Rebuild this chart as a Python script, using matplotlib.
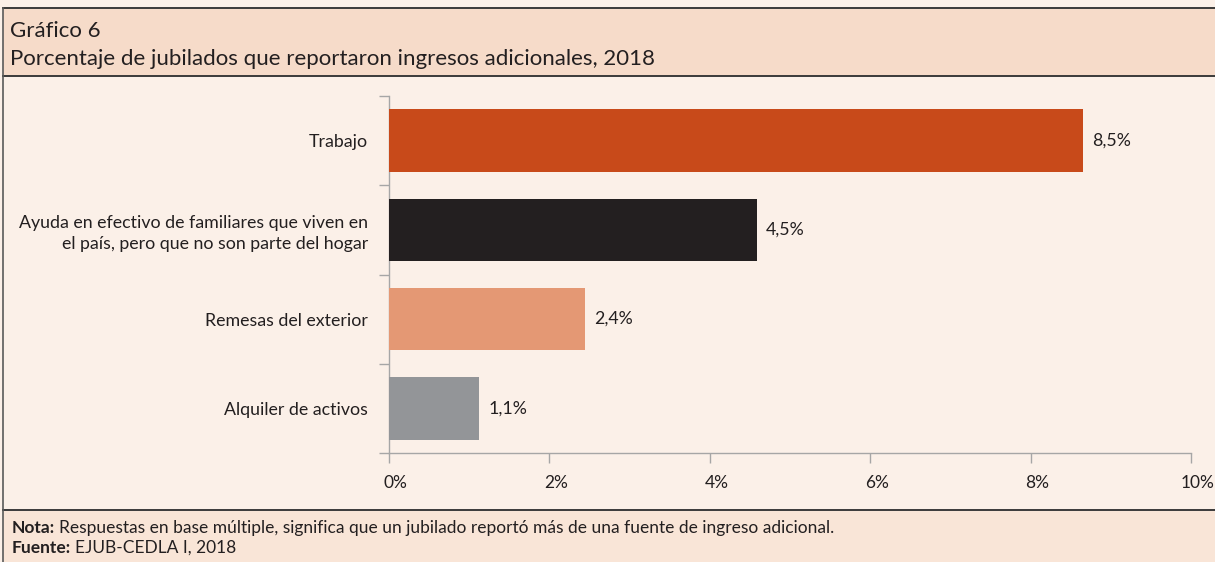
import matplotlib
matplotlib.use("Agg")
import matplotlib.pyplot as plt
import matplotlib.transforms as mtransforms
from matplotlib.patches import Rectangle
from matplotlib.lines import Line2D

plt.rcParams['font.family'] = ['Lato', 'DejaVu Sans']

categorias = ['Trabajo',
              'Ayuda en efectivo de familiares que viven en\nel país, pero que no son parte del hogar',
              'Remesas del exterior',
              'Alquiler de activos']
# longitudes de barra (en %)
valores = [8.66, 4.59, 2.45, 1.13]
etiquetas = ['8,5%', '4,5%', '2,4%', '1,1%']
colores = ['#C84A1A', '#231F20', '#E49874', '#939598']
xticks = [0, 2, 4, 6, 8, 10]
xticklabels = ['0%', '2%', '4%', '6%', '8%', '10%']

titulo1 = 'Gráfico 6'
titulo2 = 'Porcentaje de jubilados que reportaron ingresos adicionales, 2018'
nota = 'Respuestas en base múltiple, significa que un jubilado reportó más de una fuente de ingreso adicional.'
fuente = 'EJUB-CEDLA I, 2018'

W, H = 1215, 562
fig = plt.figure(figsize=(W / 100, H / 100), dpi=100)
fig.patch.set_facecolor('#FBF0E8')


def fx(px):
    return px / W


def fy(py):
    return 1 - py / H


# fondos de cabecera y pie
fig.patches.append(Rectangle((fx(3), fy(76)), 1, fy(8) - fy(76), transform=fig.transFigure,
                             facecolor='#F6DBC9', edgecolor='none', zorder=0))
fig.patches.append(Rectangle((fx(3), 0), 1, fy(510), transform=fig.transFigure,
                             facecolor='#F9E5D7', edgecolor='none', zorder=0))
for yy in (8, 76, 510):
    fig.lines.append(Line2D([fx(3), 1], [fy(yy), fy(yy)], transform=fig.transFigure,
                            color='#3A3A3A', lw=1.4))
fig.lines.append(Line2D([fx(3), fx(3)], [fy(8), 0], transform=fig.transFigure,
                        color='#5A5A5A', lw=1.2))

fig.text(fx(10), fy(31), titulo1, fontsize=16, color='#231F20', va='center', ha='left')
fig.text(fx(10), fy(59), titulo2, fontsize=16, color='#231F20', va='center', ha='left')

t1 = fig.text(fx(12), fy(528), 'Nota:', fontsize=12.5, color='#231F20', va='center', fontweight='bold')
t2 = fig.text(fx(12), fy(548), 'Fuente:', fontsize=12.5, color='#231F20', va='center', fontweight='bold')

ax = fig.add_axes([fx(388.5), fy(453), fx(1191) - fx(388.5), fy(96) - fy(453)])
ax.set_facecolor('none')
ypos = list(range(len(categorias)))
ax.barh(ypos, valores, height=0.7, color=colores, zorder=3)
for y, v, lab in zip(ypos, valores, etiquetas):
    ax.annotate(lab, (v, y), xytext=(9, 0), textcoords='offset pixels',
                va='center', ha='left', fontsize=12.8, color='#231F20')

ax.set_xlim(0, 10)
ax.set_ylim(len(categorias) - 0.5, -0.5)
ax.set_yticks(ypos)
ax.set_yticklabels(categorias, fontsize=12.8, color='#231F20', linespacing=1.35)
ax.set_yticks([i - 0.5 for i in range(len(categorias) + 1)], minor=True)
ax.tick_params(axis='y', which='major', length=0, pad=14.5)
ax.tick_params(axis='y', which='minor', length=7.5, width=1, color='#A6A6A6', direction='out')
ax.set_xticks(xticks)
ax.set_xticklabels(xticklabels, fontsize=12.5, color='#231F20')
ax.tick_params(axis='x', length=7.5, width=1, color='#A6A6A6', direction='out', pad=8)
off = mtransforms.ScaledTranslation(7 / 100, 0, fig.dpi_scale_trans)
for lbl in ax.get_xticklabels():
    lbl.set_transform(lbl.get_transform() + off)

for s in ('top', 'right'):
    ax.spines[s].set_visible(False)
for s in ('left', 'bottom'):
    ax.spines[s].set_color('#A6A6A6')
    ax.spines[s].set_linewidth(1)

# texto normal a continuacion de las palabras en negrita
fig.canvas.draw()
r = fig.canvas.get_renderer()
bb1 = t1.get_window_extent(r)
bb2 = t2.get_window_extent(r)
fig.text((bb1.x1 + 4) / W, fy(528), nota, fontsize=12.5, color='#231F20', va='center')
fig.text((bb2.x1 + 4) / W, fy(548), fuente, fontsize=12.5, color='#231F20', va='center')

fig.savefig('out.png', dpi=100, facecolor=fig.get_facecolor())
